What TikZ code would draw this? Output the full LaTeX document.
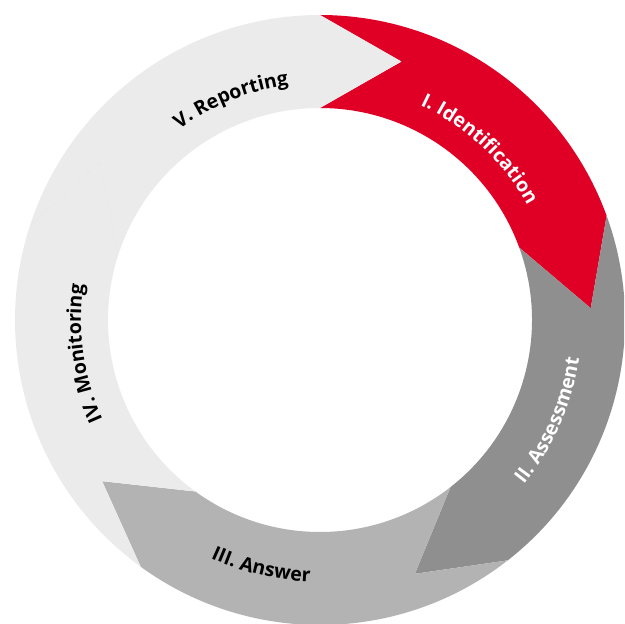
\documentclass[tikz,border=0pt]{standalone}
\usepackage{fontspec}
\setmainfont{Open Sans}
\usetikzlibrary{decorations.text}
\definecolor{cred}{HTML}{E00026}
\definecolor{cdark}{HTML}{8F8F8F}
\definecolor{cmid}{HTML}{B3B3B3}
\definecolor{clight}{HTML}{EBEBEB}
\definecolor{cseam}{HTML}{E7E7E7}
\newcommand\lblfont{\fontsize{19.5pt}{21pt}\selectfont\bfseries}
\tikzset{
  seg/.style={draw=none},
  ringtext/.style={decorate, decoration={text along path, text align=center, text={#1}}}
}
% arrow segment: #1 start angle, #2 end angle, #3 colour
\newcommand\arrowseg[3]{%
  \fill[#3] (#1:305pt) arc[start angle=#1, end angle=#2, radius=305pt]
    -- ({#2-17.5}:271pt) -- (#2:212pt)
    arc[start angle=#2, end angle=#1, radius=212pt]
    -- ({#1-17.5}:271pt) -- cycle;}
\begin{document}
\begin{tikzpicture}
\useasboundingbox (-320pt,-304pt) rectangle (304pt,320pt);
\clip (-320pt,-304pt) rectangle (304pt,320pt);
% segments
\arrowseg{90}{20}{cred}
\arrowseg{20}{-52}{cdark}
\arrowseg{-52}{-126}{cmid}
\arrowseg{234}{162}{clight}
\arrowseg{162}{90}{clight}
% faint seam between IV and V
\draw[cseam, line width=0.4pt] (162:305pt) -- (144.5:271pt) -- (162:212pt);
% labels
\path[ringtext={|\lblfont\color{white}|I. Identification}]
  (87:237pt) arc[start angle=87, end angle=7, radius=237pt];
\path[ringtext={|\lblfont\color{white}|II. Assessment}]
  (-63.7:262pt) arc[start angle=-63.7, end angle=16.3, radius=262pt];
\path[ringtext={|\lblfont\color{black}|III. Answer}]
  (-143.4:262pt) arc[start angle=-143.4, end angle=-63.4, radius=262pt];
\path[ringtext={|\lblfont\color{black}|IV. Monitoring}]
  (228:239pt) arc[start angle=228, end angle=148, radius=239pt];
\path[ringtext={|\lblfont\color{black}|V. Reporting}]
  (152:237pt) arc[start angle=152, end angle=72, radius=237pt];
\end{tikzpicture}
\end{document}
